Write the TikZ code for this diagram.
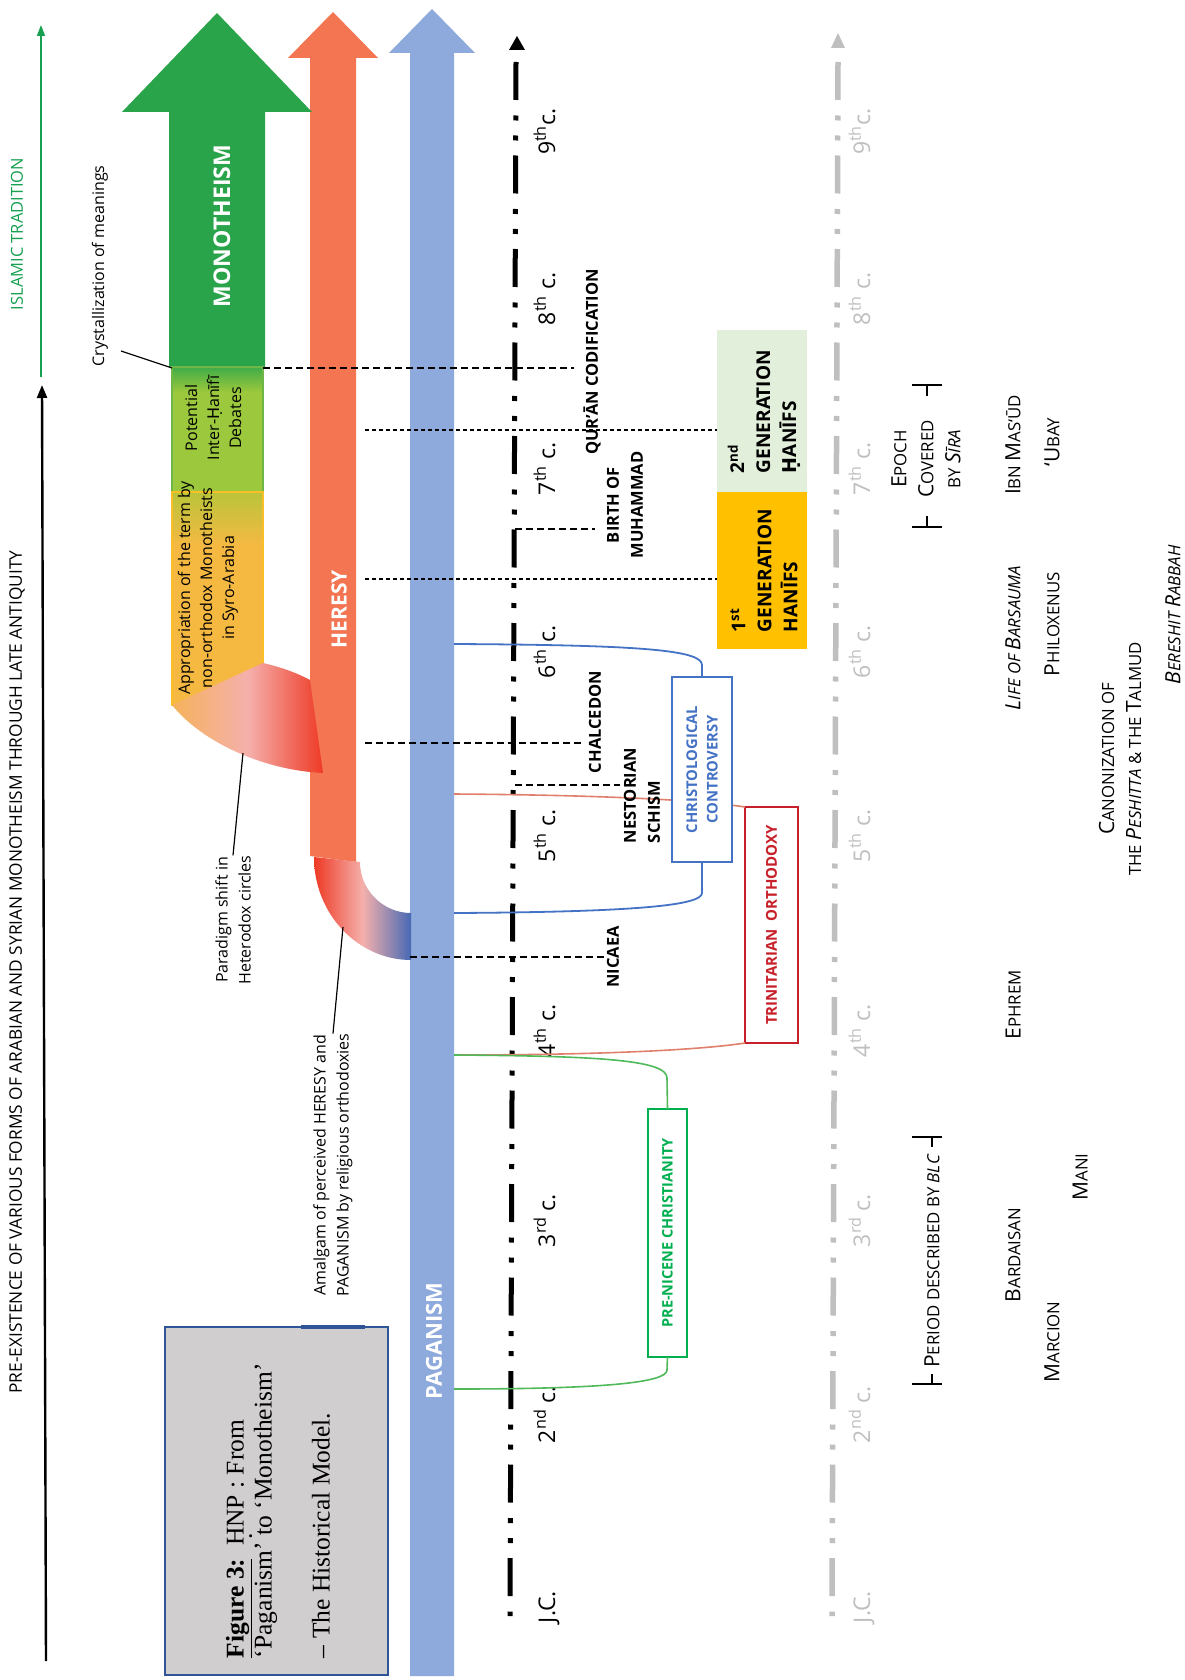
\documentclass[tikz,border=0pt]{standalone}
\usepackage{fontspec}
\setmainfont{Open Sans}
\newfontfamily\serifF{Liberation Serif}
\newfontfamily\dejavu{DejaVu Sans}
\usetikzlibrary{arrows.meta}
\newcommand\SCx[2]{{\fontsize{21}{27}\selectfont #1}{\fontsize{16.8}{27}\selectfont #2}}
\newcommand\Hdot{\ooalign{H\cr\hidewidth\raisebox{-0.32em}{.}\hidewidth\cr}}
\newcommand\Hd{{\dejavu Ḥ}}
\definecolor{mgreen}{RGB}{42,164,74}
\definecolor{potg}{RGB}{155,200,60}
\definecolor{potgtop}{RGB}{64,172,72}
\definecolor{potline}{RGB}{110,182,70}
\definecolor{appr}{RGB}{245,185,66}
\definecolor{apprtop}{RGB}{185,196,58}
\definecolor{apprline}{RGB}{250,190,40}
\definecolor{heresy}{RGB}{243,117,82}
\definecolor{pagan}{RGB}{142,169,219}
\definecolor{bandorange}{RGB}{245,178,90}
\definecolor{bandpink}{RGB}{245,176,172}
\definecolor{bandred}{RGB}{238,58,37}
\definecolor{bandblue}{RGB}{70,105,180}
\definecolor{cblue}{RGB}{68,114,196}
\definecolor{tred}{RGB}{200,32,42}
\definecolor{tline}{RGB}{224,128,108}
\definecolor{pgreen}{RGB}{0,176,80}
\definecolor{pline}{RGB}{80,185,90}
\definecolor{gen2}{RGB}{226,239,218}
\definecolor{gen1}{RGB}{255,192,0}
\definecolor{tlgray}{RGB}{191,191,191}
\definecolor{titlegray}{RGB}{208,206,206}
\definecolor{titleblue}{RGB}{47,85,151}
\definecolor{itgreen}{RGB}{22,160,80}
\tikzset{
  lbl/.style={rotate=90, font=\fontsize{16}{22}\selectfont, align=center},
  evt/.style={rotate=90, font=\fontsize{16.5}{24}\selectfont\bfseries, align=center},
  cent/.style={rotate=90, anchor=base west, font=\fontsize{23}{23}\selectfont},
  centg/.style={cent, text=tlgray},
  barlbl/.style={rotate=90, font=\fontsize{21}{21}\selectfont\bfseries, text=white},
  sclbl/.style={rotate=90, align=center, font=\fontsize{16.8}{27}\selectfont},
  dashL/.style={dash pattern=on 7pt off 4pt, line width=1.4pt},
  dashS/.style={dash pattern=on 4pt off 3pt, line width=1.1pt},
  brk/.style={line width=1.6pt},
  tlblack/.style={line width=5pt, dash pattern=on 38pt off 15.5pt on 5pt off 15pt on 5pt off 15pt},
}
\begin{document}
\begin{tikzpicture}[x=1pt,y=-1pt, every node/.style={inner sep=0pt, outer sep=0pt}]
\useasboundingbox[fill=white] (0,0) rectangle (1184,1680);

% big arrows
\fill[pagan] (432,9) -- (475,53) -- (454,53) -- (454,1676) -- (410,1676) -- (410,53) -- (389,53) -- cycle;
\fill[heresy] (333,12) -- (378,58) -- (356,58) -- (356,862) -- (310,856) -- (310,58) -- (288,58) -- cycle;
\fill[mgreen] (217,13) -- (312,112) -- (265,112) -- (265,367) -- (169,367) -- (169,112) -- (122,112) -- cycle;
% lower green/yellow boxes
\fill[potg] (172,367) rectangle (263,492);
\shade[top color=potgtop, bottom color=potg] (172,367) rectangle (263,392);
\draw[potline, line width=1.5pt] (172,367) rectangle (263,492);
\fill[appr] (172,492) rectangle (263,705);
\shade[top color=apprtop, bottom color=appr] (172,492) rectangle (263,545);
\draw[apprline, line width=1.5pt] (172,492) rectangle (263,705);
% bands
\shade[left color=bandorange, right color=bandred, middle color=bandpink]
  (172,705) -- (263,663) .. controls (280,667) and (295,672) .. (310,680) -- (323,773)
  .. controls (260,770) and (200,740) .. (172,705) -- cycle;
\shade[left color=bandred, right color=bandblue, middle color=bandpink]
  (314,857) -- (360,862) .. controls (360,890) and (383,913) .. (411,913) -- (411,960)
  .. controls (358,960) and (314,914) .. (314,857) -- cycle;

% side arrows
\draw[itgreen, line width=1.6pt, -{Triangle[length=11pt,width=8pt]}] (41,377) -- (41,25);
\draw[black, line width=2.4pt, -{Triangle[length=13pt,width=10pt]}] (46,1661) -- (42,385);
\node[rotate=90, text=itgreen, font=\fontsize{16.5}{18}\selectfont] (isl) at (17,234) {ISLAMIC TRADITION};
\node[rotate=90, font=\fontsize{17.3}{18}\selectfont] (pre) at (17,972) {PRE-EXISTENCE OF VARIOUS FORMS OF ARABIAN AND SYRIAN MONOTHEISM THROUGH LATE ANTIQUITY};

% dashed event lines
\coordinate (q0) at (263,368); \coordinate (q1) at (574,368);
\draw[dashL] (q0) -- (q1);
\coordinate (g20) at (365,430); \coordinate (g21) at (717,430);
\draw[dashS] (g20) -- (g21);
\coordinate (m0) at (515,529); \coordinate (m1) at (595,529);
\draw[dashL] (m0) -- (m1);
\coordinate (g10) at (365,579); \coordinate (g11) at (717,579);
\draw[dashS] (g10) -- (g11);
\coordinate (c0) at (365,743); \coordinate (c1) at (583,743);
\draw[dashL] (c0) -- (c1);
\coordinate (n0) at (515,785); \coordinate (n1) at (620,785);
\draw[dashL] (n0) -- (n1);
\coordinate (ni0) at (410,957); \coordinate (ni1) at (605,957);
\draw[dashL] (ni0) -- (ni1);

% timelines
\draw[tlblack] (516,62) -- (510,1616);
\fill (517,36) -- (525,50) -- (509,50) -- cycle;
\draw[tlblack, tlgray, line width=5.5pt] (838,62) -- (832,1616);
\fill[tlgray] (838,33) -- (845,48) -- (831,48) -- cycle;

% century labels
\node[cent] (c9) at (555,155) {9\textsuperscript{th}c.};
\node[cent] (c8) at (555,325) {8\textsuperscript{th} c.};
\node[cent] (c7) at (555,495) {7\textsuperscript{th} c.};
\node[cent] (c6) at (555,678) {6\textsuperscript{th} c.};
\node[cent] (c5) at (555,862) {5\textsuperscript{th} c.};
\node[cent] (c4) at (555,1057) {4\textsuperscript{th} c.};
\node[cent] (c3) at (555,1247) {3\textsuperscript{rd} c.};
\node[cent] (c2) at (555,1443) {2\textsuperscript{nd} c.};
\node[cent] (cjc) at (555,1623) {J.C.};
\node[centg] (g9) at (870,155) {9\textsuperscript{th}c.};
\node[centg] (g8) at (870,325) {8\textsuperscript{th} c.};
\node[centg] (g7) at (870,495) {7\textsuperscript{th} c.};
\node[centg] (g6) at (870,678) {6\textsuperscript{th} c.};
\node[centg] (g5) at (870,862) {5\textsuperscript{th} c.};
\node[centg] (g4) at (870,1057) {4\textsuperscript{th} c.};
\node[centg] (g3) at (870,1247) {3\textsuperscript{rd} c.};
\node[centg] (g2) at (870,1443) {2\textsuperscript{nd} c.};
\node[centg] (gjc) at (870,1623) {J.C.};

% boxes of boxes
\coordinate (o1) at (454,794); \coordinate (o2) at (454,1055);
\coordinate (b1) at (454,644); \coordinate (b2) at (454,913);
\coordinate (gr1) at (454,1055); \coordinate (gr2) at (454,1389);
\node[draw=tred, line width=2pt, fill=white, rotate=90, minimum width=236pt, minimum height=53pt,
      text=tred, font=\fontsize{15}{16}\selectfont\bfseries] (tri) at (771.5,925) {TRINITARIAN~~ORTHODOXY};
\draw[tline, line width=1.6pt] (o1) .. controls (600,795) and (700,800) .. (tri.north east);
\draw[tline, line width=1.6pt] (o2) .. controls (600,1055) and (700,1050) .. (tri.north west);
\node[draw=cblue, line width=1.2pt, fill=white, rotate=90, minimum width=185pt, minimum height=60pt,
      align=center, text=cblue, font=\fontsize{14.8}{20.5}\selectfont\bfseries] (cc) at (702,769.5) {CHRISTOLOGICAL\\CONTROVERSY};
\draw[cblue, line width=1.8pt] (b1) .. controls (640,645) and (702,650) .. (702,665) -- (cc.east);
\draw[cblue, line width=1.8pt] (cc.west) -- (702,893) .. controls (702,905) and (640,912) .. (b2);
\node[draw=pgreen, line width=2pt, fill=white, rotate=90, minimum width=248pt, minimum height=39pt,
      text=pgreen, font=\fontsize{14.5}{15}\selectfont\bfseries] (pn) at (667.5,1233) {PRE-NICENE CHRISTIANITY};
\draw[pline, line width=1.6pt] (gr1) .. controls (600,1056) and (667,1060) .. (667,1078) -- (pn.east);
\draw[pline, line width=1.6pt] (pn.west) -- (667,1370) .. controls (667,1383) and (600,1389) .. (gr2);

% Hanif boxes
\fill[gen2] (717,330) rectangle (807,492);
\fill[gen1] (717,492) rectangle (807,649);
\node[rotate=90, anchor=west, align=left, font=\fontsize{19}{26}\selectfont\bfseries] (h2) at (764,473) {2\textsuperscript{nd}\\GENERATION\\\Hd ANĪFS};
\node[rotate=90, anchor=west, align=left, font=\fontsize{19}{26}\selectfont\bfseries] (h1) at (764,632) {1\textsuperscript{st}\\GENERATION\\HANĪFS};

% event labels
\node[evt] (qur) at (592,362) {QUR’ĀN CODIFICATION};
\node[evt] (bir) at (625,505) {BIRTH OF\\MUHAMMAD};
\node[evt] (cha) at (595,722) {CHALCEDON};
\node[evt, anchor=west, align=left] (nes) at (642,843) {NESTORIAN\\SCHISM};
\node[evt] (nic) at (613,957) {NICAEA};

% bar labels
\node[barlbl, font=\fontsize{23}{23}\selectfont\bfseries] (mono) at (222,226) {MONOTHEISM};
\node[barlbl] (her) at (339,609) {HERESY};
\node[barlbl, font=\fontsize{22}{22}\selectfont\bfseries] (pag) at (434,1341) {PAGANISM};

% side texts
\node[lbl] (pot) at (213,418) {Potential\\Inter-\Hd anīfī\\Debates};
\node[lbl] (app) at (208,588) {Appropriation of the term by\\non-orthodox Monotheists\\in Syro-Arabia};
\node[lbl] (cry) at (100,266) {Crystallization of meanings};
\draw[line width=1.2pt] (121,351) -- (172,368);
\node[lbl, font=\fontsize{16}{23}\selectfont] (par) at (233,920) {Paradigm shift in\\Heterodox circles};
\draw[line width=1.2pt] (par.east) -- (243,753);
\node[lbl, font=\fontsize{16}{23}\selectfont] (ama) at (333,1165) {Amalgam of perceived HERESY and\\PAGANISM by religious orthodoxies};
\draw[line width=1.2pt] (ama.east) -- (343,927);

% title box
\node[fill=titlegray, draw=titleblue, line width=1.5pt, minimum width=223pt, minimum height=348pt] (tbox) at (276.5,1501) {};
\draw[titleblue, line width=3.5pt] (301,1327) -- (365,1327);
\node[rotate=90, anchor=north west, align=left, font=\serifF\fontsize{25.5}{28}\selectfont] (ttl) at (226,1658)
  {\textbf{\underline{Figure 3:}}\ \ \Hdot NP : From\\‘Paganism’ to ‘Monotheism’\\[30pt]– The Historical Model.};

% right side
\node[sclbl] (epo) at (926,459) {\SCx{E}{POCH}\\\SCx{C}{OVERED}\\BY \textit{\SCx{S}{ĪRA}}};
\draw[brk] (912,385) -- (942,385) (927,385) -- (927,396);
\draw[brk] (912,527) -- (942,527) (927,527) -- (927,516);
\node[sclbl] (ibn) at (1013,445) {\SCx{I}{BN} \SCx{M}{AS‘ŪD}};
\node[sclbl] (uba) at (1052,442) {\SCx{‘U}{BAY}};
\node[sclbl, font=\fontsize{16.8}{27}\selectfont\itshape] (lif) at (1013,638) {\SCx{L}{IFE OF} \SCx{B}{ARSAUMA}};
\node[sclbl] (phi) at (1052,624) {\SCx{P}{HILOXENUS}};
\node[sclbl] (can) at (1120,759) {\SCx{C}{ANONIZATION OF}\\THE \textit{\SCx{P}{ESHITTA}} \& THE \SCx{T}{ALMUD}};
\node[sclbl, font=\fontsize{16.8}{27}\selectfont\itshape] (ber) at (1173,615) {\SCx{B}{ERESHIT} \SCx{R}{ABBAH}};
\node[sclbl] (eph) at (1013,1005) {\SCx{E}{PHREM}};
\node[sclbl] (per) at (932,1261) {\SCx{P}{ERIOD DESCRIBED BY} \textit{BLC}};
\draw[brk] (912,1137) -- (942,1137) (932,1137) -- (932,1147);
\draw[brk] (912,1384) -- (942,1384) (932,1384) -- (932,1374);
\node[sclbl] (bar) at (1013,1255) {\SCx{B}{ARDAISAN}};
\node[sclbl] (mar) at (1052,1342) {\SCx{M}{ARCION}};
\node[sclbl] (man) at (1080,1177) {\SCx{M}{ANI}};
\end{tikzpicture}
\end{document}
